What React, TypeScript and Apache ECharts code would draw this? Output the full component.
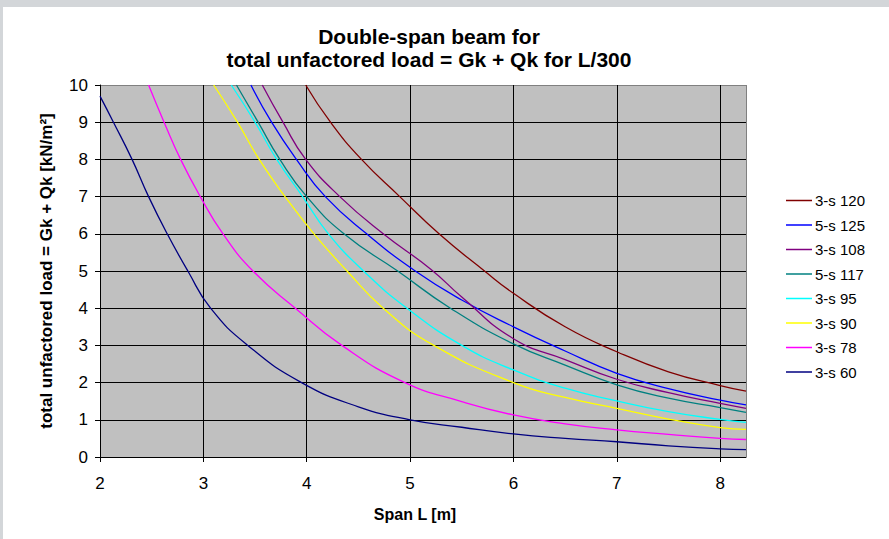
import React, { useEffect, useRef } from "react";
import * as echarts from "echarts";

const seriesNames = ["3-s 120", "5-s 125", "3-s 108", "5-s 117", "3-s 95", "3-s 90", "3-s 78", "3-s 60"];

const s120 = [[3.99, 10], [4.23, 9], [4.53, 8], [4.9, 7], [5.28, 6], [5.72, 5], [6, 4.4], [6.5, 3.5], [7, 2.83], [7.5, 2.29], [8, 1.92], [8.25, 1.77]];
const s125 = [[3.46, 10], [3.66, 9], [3.9, 8], [4.18, 7], [4.58, 6], [5.05, 5], [5.5, 4.22], [6, 3.5], [6.5, 2.85], [7, 2.25], [7.5, 1.84], [8, 1.53], [8.25, 1.4]];
const s108 = [[3.57, 10], [3.77, 9], [3.99, 8], [4.32, 7], [4.74, 6], [5.2, 5.05], [5.5, 4.3], [6, 3.18], [6.5, 2.62], [7, 2.09], [7.5, 1.73], [8, 1.44], [8.25, 1.31]];
const s117 = [[3.32, 10], [3.53, 9], [3.74, 8], [4, 7], [4.36, 6], [4.88, 5], [5.39, 4], [6, 3.04], [6.5, 2.47], [7, 1.94], [7.5, 1.58], [8, 1.33], [8.25, 1.2]];
const s95 = [[3.27, 10], [3.5, 9], [3.71, 8], [3.96, 7], [4.21, 6], [4.55, 5], [4.97, 4], [5.5, 3], [6, 2.34], [6.5, 1.85], [7, 1.51], [7.5, 1.22], [8, 1.01], [8.25, 0.93]];
const s90 = [[3.1, 10], [3.33, 9], [3.54, 8], [3.79, 7], [4.07, 6], [4.39, 5], [4.74, 4], [5.23, 3], [6, 2.0], [6.5, 1.6], [7, 1.31], [7.5, 1.02], [8, 0.79], [8.25, 0.74]];
const s78 = [[2.47, 10], [2.62, 9], [2.78, 8], [2.97, 7], [3.19, 6], [3.48, 5], [3.89, 4], [4.34, 3], [4.95, 2], [5.5, 1.49], [6, 1.13], [6.5, 0.89], [7, 0.73], [7.5, 0.61], [8, 0.5], [8.25, 0.47]];
const s60 = [[2, 9.7], [2.13, 9], [2.31, 8], [2.47, 7], [2.65, 6], [2.85, 5], [3.07, 4], [3.43, 3], [3.95, 2], [4.5, 1.35], [5, 1.0], [5.5, 0.8], [6, 0.62], [6.5, 0.5], [7, 0.41], [7.5, 0.3], [8, 0.22], [8.25, 0.2]];

const seriesData = [s120, s125, s108, s117, s95, s90, s78, s60];
const seriesColors = ["#800000", "#0000ff", "#800080", "#008080", "#00ffff", "#ffff00", "#ff00ff", "#000080"];

const titleText = "Double-span beam for\ntotal unfactored load = Gk + Qk for L/300";
const xName = "Span L [m]";
const yName = "total unfactored load = Gk + Qk [kN/m²]";

const FONT = "'Liberation Sans', Arial, Helvetica, sans-serif";

export default function App() {
  const ref = useRef<HTMLDivElement>(null);
  useEffect(() => {
    if (!ref.current) return;
    const chart = echarts.init(ref.current, null, { renderer: "svg" });
    const yGridColors = Array.from({ length: 11 }, (_, i) => (i === 10 ? "#808080" : "#000000"));
    const xGridColors = Array.from({ length: 8 }, (_, i) => (i === 7 ? "#808080" : "#000000"));
    chart.setOption({
      animation: false,
      textStyle: { fontFamily: FONT },
      title: {
        text: titleText,
        left: 424,
        top: 20,
        textAlign: "center",
        textStyle: { fontSize: 21, fontWeight: "bold", color: "#000", lineHeight: 23, fontFamily: FONT },
      },
      legend: {
        orient: "vertical",
        left: 781,
        top: 188,
        itemWidth: 26,
        itemHeight: 1.5,
        itemGap: 9.5,
        icon: "rect",
        data: seriesNames,
        textStyle: { fontSize: 15, color: "#000", fontFamily: FONT, padding: [0, 0, 0, -2] },
      },
      grid: {
        left: 100,
        right: 143,
        top: 85,
        bottom: 82,
        show: true,
        backgroundColor: "#c0c0c0",
        borderWidth: 0,
      },
      xAxis: {
        type: "value",
        min: 2,
        max: 8.25,
        interval: 1,
        name: xName,
        nameLocation: "middle",
        nameGap: 49,
        nameTextStyle: { fontSize: 16, fontWeight: "bold", color: "#000", fontFamily: FONT, padding: [0, 16, 0, 0] },
        axisLine: { show: true, onZero: false, lineStyle: { color: "#000", width: 1 } },
        axisTick: { show: true, length: 5, lineStyle: { color: "#000" } },
        axisLabel: {
          fontSize: 17,
          color: "#000",
          margin: 18,
          showMaxLabel: false,
          formatter: (v: number) => (Number.isInteger(v) ? String(v) : ""),
        },
        splitLine: { show: true, lineStyle: { color: xGridColors, width: 1 } },
      },
      yAxis: {
        type: "value",
        min: 0,
        max: 10,
        interval: 1,
        name: yName,
        nameLocation: "middle",
        nameGap: 45,
        nameTextStyle: { fontSize: 17, fontWeight: "bold", color: "#000", fontFamily: FONT },
        axisLine: { show: true, lineStyle: { color: "#000", width: 1 } },
        axisTick: { show: true, length: 5, lineStyle: { color: "#000" } },
        axisLabel: { fontSize: 17, color: "#000", margin: 12 },
        splitLine: { show: true, lineStyle: { color: yGridColors, width: 1 } },
      },
      series: seriesNames.map((name, i) => ({
        name,
        type: "line",
        data: seriesData[i],
        smooth: 0.5,
        symbol: "none",
        color: seriesColors[i],
        lineStyle: { color: seriesColors[i], width: 1.3 },
        clip: true,
      })),
    });
    return () => chart.dispose();
  }, []);

  return (
    <div style={{ position: "absolute", left: 0, top: 0, width: 889, height: 539, background: "#d3d6d9", overflow: "hidden" }}>
      <div style={{ position: "absolute", left: 3, top: 7, width: 886, height: 532, background: "#ffffff" }} />
      <div ref={ref} style={{ position: "absolute", left: 0, top: 0, width: 889, height: 539 }} />
    </div>
  );
}
